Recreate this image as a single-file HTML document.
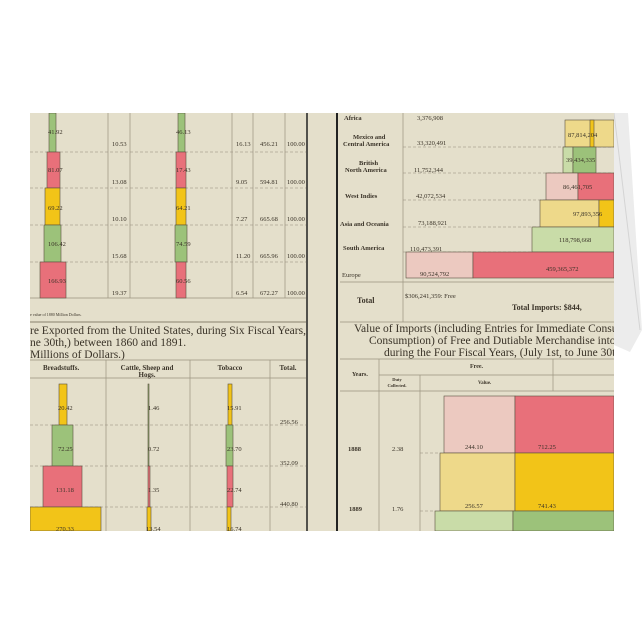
<!DOCTYPE html>
<html><head><meta charset="utf-8"><style>
body{margin:0;background:#fff;}
svg{display:block}
text{font-family:"Liberation Serif",serif;fill:#3a3328}
.n{font-family:"Liberation Sans Narrow","Liberation Sans",sans-serif;font-size:6.5px}
.h{font-weight:bold;font-size:7px}
.t{font-size:11.5px}
</style></head><body>
<svg width="644" height="644" viewBox="0 0 644 644">
<defs><clipPath id="c"><rect x="30" y="113" width="584" height="418"/></clipPath></defs>
<rect width="644" height="644" fill="#fff"/>
<polygon points="614,113 628,113 642,330 630,352 614,345" fill="#ececec"/>
<line x1="614" y1="113" x2="640" y2="330" stroke="#d4d4d4"/>
<g clip-path="url(#c)">
<rect x="30" y="113" width="584" height="418" fill="#e4dfcb"/>
<g stroke="#9a937f" stroke-width="0.7" fill="none">
<line x1="108" y1="113" x2="108" y2="298"/><line x1="130" y1="113" x2="130" y2="298"/>
<line x1="232" y1="113" x2="232" y2="298"/><line x1="253" y1="113" x2="253" y2="298"/>
<line x1="285" y1="113" x2="285" y2="298"/>
<line x1="30" y1="298" x2="306" y2="298"/>
<line x1="30" y1="322" x2="306" y2="322" stroke-width="1.2"/>
<line x1="30" y1="360" x2="306" y2="360"/><line x1="30" y1="378" x2="306" y2="378"/>
<line x1="106" y1="360" x2="106" y2="531"/><line x1="190" y1="360" x2="190" y2="531"/><line x1="270" y1="360" x2="270" y2="531"/>
<line x1="403" y1="113" x2="403" y2="282"/>
<line x1="340" y1="282" x2="614" y2="282"/><line x1="340" y1="322" x2="614" y2="322"/>
<line x1="403" y1="282" x2="403" y2="322"/>
<line x1="340" y1="359" x2="614" y2="359"/><line x1="379" y1="375" x2="614" y2="375"/>
<line x1="340" y1="391" x2="614" y2="391"/>
<line x1="379" y1="359" x2="379" y2="531"/><line x1="420" y1="375" x2="420" y2="531"/><line x1="553" y1="359" x2="553" y2="391"/>
</g>
<g stroke="#8f887a" stroke-width="0.6" stroke-dasharray="3,2">
<line x1="30" y1="152" x2="306" y2="152"/><line x1="30" y1="188" x2="306" y2="188"/>
<line x1="30" y1="225" x2="306" y2="225"/><line x1="30" y1="262" x2="306" y2="262"/>
<line x1="30" y1="425" x2="306" y2="425"/><line x1="30" y1="466" x2="306" y2="466"/><line x1="30" y1="507" x2="306" y2="507"/>
<line x1="403" y1="147" x2="614" y2="147"/><line x1="403" y1="173" x2="614" y2="173"/>
<line x1="403" y1="200" x2="614" y2="200"/><line x1="403" y1="227" x2="614" y2="227"/>
<line x1="403" y1="252" x2="614" y2="252"/>
<line x1="420" y1="453" x2="440" y2="453"/><line x1="420" y1="511" x2="435" y2="511"/>
</g>
<line x1="307" y1="113" x2="307" y2="531" stroke="#222" stroke-width="1.5"/>
<line x1="337" y1="113" x2="337" y2="531" stroke="#222" stroke-width="2"/>
<g stroke="#5a5040" stroke-width="0.6">
<rect x="49" y="113" width="7" height="39" fill="#9cc27a"/>
<rect x="47" y="152" width="13" height="36" fill="#e8707a"/>
<rect x="45" y="188" width="15" height="37" fill="#f2c418"/>
<rect x="44" y="225" width="17" height="37" fill="#9cc27a"/>
<rect x="40" y="262" width="26" height="36" fill="#e8707a"/>
<rect x="178" y="113" width="7" height="39" fill="#9cc27a"/>
<rect x="176" y="152" width="10" height="36" fill="#e8707a"/>
<rect x="176" y="188" width="10" height="37" fill="#f2c418"/>
<rect x="175" y="225" width="12" height="37" fill="#9cc27a"/>
<rect x="176" y="262" width="10" height="36" fill="#e8707a"/>
<rect x="59" y="384" width="8" height="41" fill="#f2c418"/>
<rect x="52" y="425" width="21" height="41" fill="#9cc27a"/>
<rect x="43" y="466" width="39" height="41" fill="#e8707a"/>
<rect x="30" y="507" width="71" height="24" fill="#f2c418"/>
<rect x="148" y="384" width="1" height="82" fill="#9cc27a"/>
<rect x="148" y="466" width="2" height="41" fill="#e8707a"/>
<rect x="147" y="507" width="4" height="24" fill="#f2c418"/>
<rect x="228" y="384" width="4" height="41" fill="#f2c418"/>
<rect x="226" y="425" width="7" height="41" fill="#9cc27a"/>
<rect x="227" y="466" width="6" height="41" fill="#e8707a"/>
<rect x="227" y="507" width="4" height="24" fill="#f2c418"/>
<rect x="565" y="120" width="49" height="27" fill="#eed98a"/><rect x="590" y="120" width="4" height="27" fill="#f2c418"/>
<rect x="563" y="147" width="10" height="26" fill="#c9dca8"/><rect x="573" y="147" width="23" height="26" fill="#9cc27a"/>
<rect x="546" y="173" width="32" height="27" fill="#ecc9c0"/><rect x="578" y="173" width="36" height="27" fill="#e8707a"/>
<rect x="540" y="200" width="59" height="27" fill="#eed98a"/><rect x="599" y="200" width="15" height="27" fill="#f2c418"/>
<rect x="532" y="227" width="82" height="25" fill="#c9dca8"/>
<rect x="406" y="252" width="67" height="26" fill="#ecc9c0"/><rect x="473" y="252" width="141" height="26" fill="#e8707a"/>
<rect x="444" y="396" width="71" height="57" fill="#ecc9c0"/><rect x="515" y="396" width="99" height="57" fill="#e8707a"/>
<rect x="440" y="453" width="75" height="58" fill="#eed98a"/><rect x="515" y="453" width="99" height="58" fill="#f2c418"/>
<rect x="435" y="511" width="78" height="20" fill="#c9dca8"/><rect x="513" y="511" width="101" height="20" fill="#9cc27a"/>
</g>
<g class="n">
<text x="48" y="134">41.92</text><text x="48" y="172">81.07</text><text x="48" y="210">69.22</text><text x="48" y="246">106.42</text><text x="48" y="283">166.93</text>
<text x="176" y="134">46.13</text><text x="176" y="172">17.43</text><text x="176" y="210">64.21</text><text x="176" y="246">74.59</text><text x="176" y="283">60.56</text>
<text x="112" y="146">10.53</text><text x="112" y="184">13.08</text><text x="112" y="221">10.10</text><text x="112" y="258">15.68</text><text x="112" y="295">19.37</text>
<text x="236" y="146">16.13</text><text x="236" y="184">9.05</text><text x="236" y="221">7.27</text><text x="236" y="258">11.20</text><text x="236" y="295">6.54</text>
<text x="260" y="146">456.21</text><text x="260" y="184">594.81</text><text x="260" y="221">665.68</text><text x="260" y="258">665.96</text><text x="260" y="295">672.27</text>
<text x="287" y="146">100.00</text><text x="287" y="184">100.00</text><text x="287" y="221">100.00</text><text x="287" y="258">100.00</text><text x="287" y="295">100.00</text>
<text x="58" y="410">20.42</text><text x="58" y="451">72.25</text><text x="56" y="492">131.18</text><text x="56" y="531">270.33</text>
<text x="148" y="410">1.46</text><text x="148" y="451">0.72</text><text x="148" y="492">1.35</text><text x="146" y="531">13.54</text>
<text x="227" y="410">15.91</text><text x="227" y="451">23.70</text><text x="227" y="492">22.74</text><text x="227" y="531">16.74</text>
<text x="280" y="424">256.56</text><text x="280" y="465">352.09</text><text x="280" y="506">440.80</text>
</g>
<text x="30" y="316" style="font-size:4px">e value of 1880 Million Dollars.</text>
<text x="30" y="334" class="t">re Exported from the United States, during Six Fiscal Years,</text>
<text x="30" y="346" class="t">ne 30th,) between 1860 and 1891.</text>
<text x="30" y="358" class="t">Millions of Dollars.)</text>
<text x="43" y="370" class="h">Breadstuffs.</text>
<text x="147" y="370" class="h" text-anchor="middle">Cattle, Sheep and</text><text x="147" y="377" class="h" text-anchor="middle">Hogs.</text>
<text x="230" y="370" class="h" text-anchor="middle">Tobacco</text>
<text x="288" y="370" class="h" text-anchor="middle">Total.</text>
<g class="h" style="font-size:6.5px">
<text x="344" y="120">Africa</text>
<text x="353" y="139">Mexico and</text><text x="343" y="146">Central America</text>
<text x="359" y="165">British</text><text x="345" y="172">North America</text>
<text x="345" y="198">West Indies</text>
<text x="340" y="226">Asia and Oceania</text>
<text x="343" y="250">South America</text>
<text x="342" y="277" style="font-weight:normal">Europe</text>
<text x="357" y="303" style="font-size:8px">Total</text>
<text x="352" y="376" style="font-size:6px">Years.</text>
<text x="470" y="368" style="font-size:6px">Free.</text>
<text x="397" y="381" style="font-size:4.5px" text-anchor="middle">Duty</text><text x="397" y="387" style="font-size:4.5px" text-anchor="middle">Collected.</text>
<text x="478" y="384" style="font-size:5px">Value.</text>
<text x="348" y="451">1888</text><text x="349" y="511">1889</text>
</g>
<g class="n" style="font-family:'Liberation Serif',serif">
<text x="417" y="120">3,376,908</text><text x="417" y="145">33,320,491</text><text x="414" y="172">11,752,344</text>
<text x="416" y="198">42,072,534</text><text x="418" y="225">73,188,921</text><text x="410" y="251">110,473,391</text>
<text x="420" y="276">90,524,792</text>
<text x="568" y="137">87,814,204</text><text x="566" y="162">39,434,335</text><text x="563" y="189">86,461,705</text>
<text x="573" y="216">97,893,356</text><text x="559" y="242">118,798,668</text><text x="546" y="271">459,365,372</text>
<text x="405" y="298">$306,241,359:  Free</text>
<text x="392" y="451">2.38</text><text x="392" y="511">1.76</text>
<text x="465" y="449">244.10</text><text x="538" y="449">712.25</text>
<text x="465" y="508">256.57</text><text x="538" y="508">741.43</text>
</g>
<text x="512" y="310" class="h" style="font-size:8px">Total Imports:   $844,</text>
<text x="354" y="332" class="t">Value of Imports (including Entries for Immediate Consum</text>
<text x="369" y="344" class="t">Consumption) of Free and Dutiable Merchandise into the</text>
<text x="384" y="356" class="t">during the Four Fiscal Years, (July 1st, to June 30th,)</text>
</g>
</svg>
</body></html>
